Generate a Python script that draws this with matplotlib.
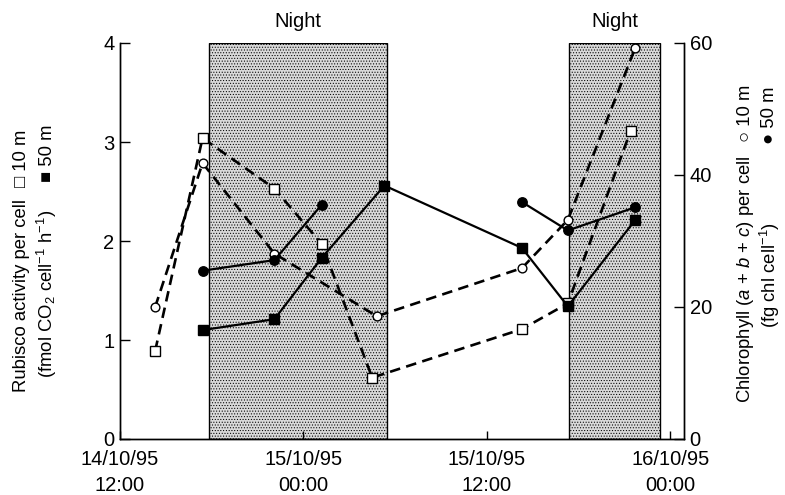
#!/usr/bin/env python3
"""
Rubisco y clorofila por celula a lo largo de dos ciclos dia/noche.
"""

import numpy as np
import matplotlib
matplotlib.use("Agg")
import matplotlib.pyplot as plt

# horas desde 14/10/95 12:00
rub10_t = [2.3, 5.4, 10.1, 13.2, 16.5, 26.3, 29.3, 33.4]
rub10 = [0.89, 3.04, 2.53, 1.97, 0.62, 1.11, 1.37, 3.11]
rub50_t = [5.4, 10.1, 13.2, 17.3, 26.3, 29.3, 33.7]
rub50 = [1.10, 1.21, 1.83, 2.56, 1.93, 1.34, 2.21]

chl10_t = [2.3, 5.4, 10.1, 16.8, 26.3, 29.3, 33.7]
chl10 = [20.0, 41.8, 28.1, 18.6, 25.9, 33.2, 59.2]
# sin dato entre las dos tandas de 50 m
chl50_t = [5.4, 10.1, 13.2, np.nan, 26.3, 29.3, 33.7]
chl50 = [25.5, 27.1, 35.5, np.nan, 35.9, 31.6, 35.1]

nights = [(5.8, 17.45), (29.4, 35.3)]
xticks = [0, 12, 24, 36]
xticklabels = ["14/10/95\n12:00", "15/10/95\n00:00", "15/10/95\n12:00", "16/10/95\n00:00"]

W, H = 785, 495


def fx(px):
    return px / W


def fy(py):
    return 1 - py / H


def main():
    plt.rcParams["font.family"] = ["Liberation Sans", "DejaVu Sans"]
    plt.rcParams["mathtext.fontset"] = "custom"
    plt.rcParams["mathtext.rm"] = "Liberation Sans"
    plt.rcParams["mathtext.it"] = "Liberation Sans:italic"
    plt.rcParams["hatch.color"] = "#5e5e5e"
    plt.rcParams["hatch.linewidth"] = 0.45

    fig = plt.figure(figsize=(W / 100, H / 100), dpi=100)
    ax = fig.add_axes([fx(120), fy(439), fx(684) - fx(120), fy(43) - fy(439)])
    ax2 = ax.twinx()

    # bandas de noche
    for x0, x1 in nights:
        ax.axvspan(x0, x1, ymin=0, ymax=1, facecolor="#d9d9d9", hatch="......",
                   edgecolor="black", linewidth=1.0, zorder=0)
        ax.text((x0 + x1) / 2, 1.03, "Night", transform=ax.get_xaxis_transform(),
                ha="center", va="bottom", fontsize=14.5)

    dash = (0, (4, 2.4))
    ax.plot(rub10_t, rub10, linestyle=dash, color="black", lw=1.9,
            marker="s", ms=7, mfc="white", mec="black", mew=1.0, zorder=3)
    ax.plot(rub50_t, rub50, linestyle="-", color="black", lw=1.6,
            marker="s", ms=7.5, mfc="black", mec="black", zorder=3)
    ax2.plot(chl10_t, chl10, linestyle=dash, color="black", lw=1.9,
             marker="o", ms=6.3, mfc="white", mec="black", mew=1.0, zorder=3)
    ax2.plot(chl50_t, chl50, linestyle="-", color="black", lw=1.6,
             marker="o", ms=6.8, mfc="black", mec="black", zorder=3)

    ax.set_xlim(0, 36.9)
    ax.set_ylim(0, 4)
    ax2.set_ylim(0, 60)
    ax.set_xticks(xticks)
    ax.set_xticklabels(xticklabels, fontsize=14.5, linespacing=1.45)
    ax.set_yticks([0, 1, 2, 3, 4])
    ax2.set_yticks([0, 20, 40, 60])

    for a in (ax, ax2):
        a.spines["top"].set_visible(False)
        for s in a.spines.values():
            s.set_linewidth(1.0)
        a.tick_params(direction="in", length=7, width=1.0, labelsize=14.5, pad=4)
    ax.tick_params(axis="x", length=6, pad=8)

    # etiquetas de ejes con su leyenda
    fs = 13.3
    fig.text(fx(22), fy(296), "Rubisco activity per cell", rotation=90,
             ha="center", va="center", fontsize=fs)
    fig.text(fx(22), fy(158), "\u25a1 10 m", rotation=90, ha="center", va="center", fontsize=fs)
    fig.text(fx(47), fy(294), "(fmol CO$_2$ cell$^{-1}$ h$^{-1}$)", rotation=90,
             ha="center", va="center", fontsize=fs)
    fig.text(fx(47), fy(153), "\u25a0 50 m", rotation=90, ha="center", va="center", fontsize=fs)

    fig.text(fx(745), fy(279), "Chlorophyll ($a$ + $b$ + $c$) per cell", rotation=90,
             ha="center", va="center", fontsize=fs)
    fig.text(fx(745), fy(113), "\u25cb 10 m", rotation=90, ha="center", va="center", fontsize=fs)
    fig.text(fx(770), fy(275), "(fg chl cell$^{-1}$)", rotation=90,
             ha="center", va="center", fontsize=fs)
    fig.text(fx(770), fy(115), "\u25cf 50 m", rotation=90, ha="center", va="center", fontsize=fs)

    plt.savefig("out.png", dpi=100)


if __name__ == "__main__":
    main()
